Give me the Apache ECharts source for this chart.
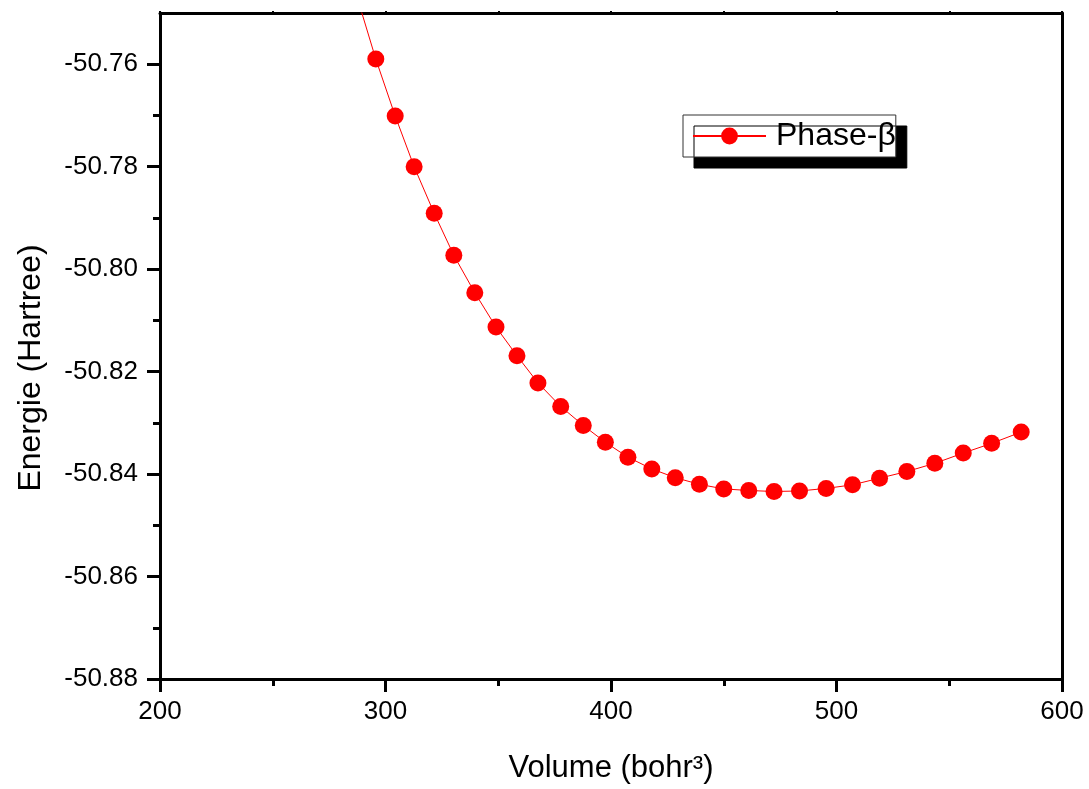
<!DOCTYPE html>
<html>
<head>
<meta charset="utf-8">
<script src="https://cdn.jsdelivr.net/npm/echarts@6/dist/echarts.min.js"></script>
<style>html,body{margin:0;padding:0;background:#fff;}#c{width:1089px;height:789px;}</style>
</head>
<body>
<div id="c"></div>
<script>
// Data
const volumes = [287.2, 295.7, 304.3, 312.7, 321.6, 330.3, 339.6, 349.0, 358.3, 367.6, 377.7, 387.7, 397.5, 407.5, 418.1, 428.5, 439.2, 450.0, 461.1, 472.3, 483.6, 495.4, 507.1, 519.1, 531.2, 543.6, 556.2, 568.8, 581.9];
const energies = [-50.7466, -50.7590, -50.7701, -50.7800, -50.7891, -50.7973, -50.8046, -50.8113, -50.8169, -50.8222, -50.8268, -50.8305, -50.8338, -50.8367, -50.8390, -50.8407, -50.8420, -50.8429, -50.8432, -50.8434, -50.8433, -50.8428, -50.8421, -50.8408, -50.8395, -50.8379, -50.8359, -50.8340, -50.8318];
const seriesName = 'Phase-β';
const yMajorTicks = [-50.88, -50.86, -50.84, -50.82, -50.80, -50.78, -50.76];
const yMinorTicks = [-50.87, -50.85, -50.83, -50.81, -50.79, -50.77];
const xTitle = 'Volume (bohr³)';
const yTitle = 'Energie (Hartree)';

const FONT = "'Liberation Sans', Arial, sans-serif";
const chart = echarts.init(document.getElementById('c'), null, {renderer: 'canvas'});
const yMin = -50.88, yMax = -50.75;
const axisLine3 = {show: true, onZero: false, lineStyle: {color: '#000', width: 3}};

chart.setOption({
  animation: false,
  backgroundColor: '#fff',
  grid: {left: 160, right: 27, top: 13, bottom: 110, containLabel: false},
  legend: {
    show: true,
    left: 683, top: 115,
    padding: [5, 0, 5, 9],
    itemWidth: 73, itemHeight: 21,
    backgroundColor: '#fff',
    borderColor: '#333', borderWidth: 1,
    shadowColor: '#000', shadowBlur: 0, shadowOffsetX: 11, shadowOffsetY: 11,
    textStyle: {fontFamily: FONT, fontSize: 32, color: '#000', padding: [0, 0, 0, 5]},
    data: [seriesName]
  },
  xAxis: [
    {
      type: 'value', position: 'bottom', min: 200, max: 600, interval: 100,
      axisLine: axisLine3,
      axisTick: {show: true, inside: false, length: 13, lineStyle: {color: '#000', width: 3}},
      minorTick: {show: true, splitNumber: 2, length: 7, lineStyle: {color: '#000', width: 3}},
      axisLabel: {fontFamily: FONT, fontSize: 26, color: '#000', margin: 20},
      splitLine: {show: false},
      name: xTitle, nameLocation: 'middle', nameGap: 74,
      nameTextStyle: {fontFamily: FONT, fontSize: 31, color: '#000'}
    },
    {
      type: 'value', position: 'top', min: 200, max: 600, interval: 50,
      axisLine: axisLine3,
      axisTick: {show: true, inside: false, length: 2, lineStyle: {color: '#000', width: 2}},
      axisLabel: {show: false}, splitLine: {show: false}
    }
  ],
  yAxis: [
    {
      type: 'value', position: 'left', min: yMin, max: yMax,
      axisLine: axisLine3,
      axisTick: {show: true, inside: false, length: 13, customValues: yMajorTicks, lineStyle: {color: '#000', width: 3}},
      axisLabel: {fontFamily: FONT, fontSize: 26, color: '#000', margin: 22, customValues: yMajorTicks,
        formatter: v => v.toFixed(2)},
      splitLine: {show: false},
      name: yTitle, nameLocation: 'middle', nameGap: 113, nameRotate: 90,
      nameTextStyle: {fontFamily: FONT, fontSize: 32, color: '#000', padding: [0, 44, 0, 0]}
    },
    {
      type: 'value', position: 'left', min: yMin, max: yMax,
      axisLine: {show: false},
      axisTick: {show: true, inside: false, length: 7, customValues: yMinorTicks, lineStyle: {color: '#000', width: 3}},
      axisLabel: {show: false}, splitLine: {show: false}
    },
    {
      type: 'value', position: 'right', min: yMin, max: yMax,
      axisLine: axisLine3,
      axisTick: {show: true, inside: false, length: 2, customValues: yMajorTicks.concat(yMinorTicks), lineStyle: {color: '#000', width: 2}},
      axisLabel: {show: false}, splitLine: {show: false}
    }
  ],
  series: [{
    name: seriesName,
    type: 'line',
    xAxisIndex: 0, yAxisIndex: 0,
    data: volumes.map((v, i) => [v, energies[i]]),
    symbol: 'circle', symbolSize: 17,
    showAllSymbol: true,
    clip: true,
    lineStyle: {color: '#ff0000', width: 1},
    itemStyle: {color: '#ff0000'},
    emphasis: {disabled: true}
  }]
});
</script>
</body>
</html>
